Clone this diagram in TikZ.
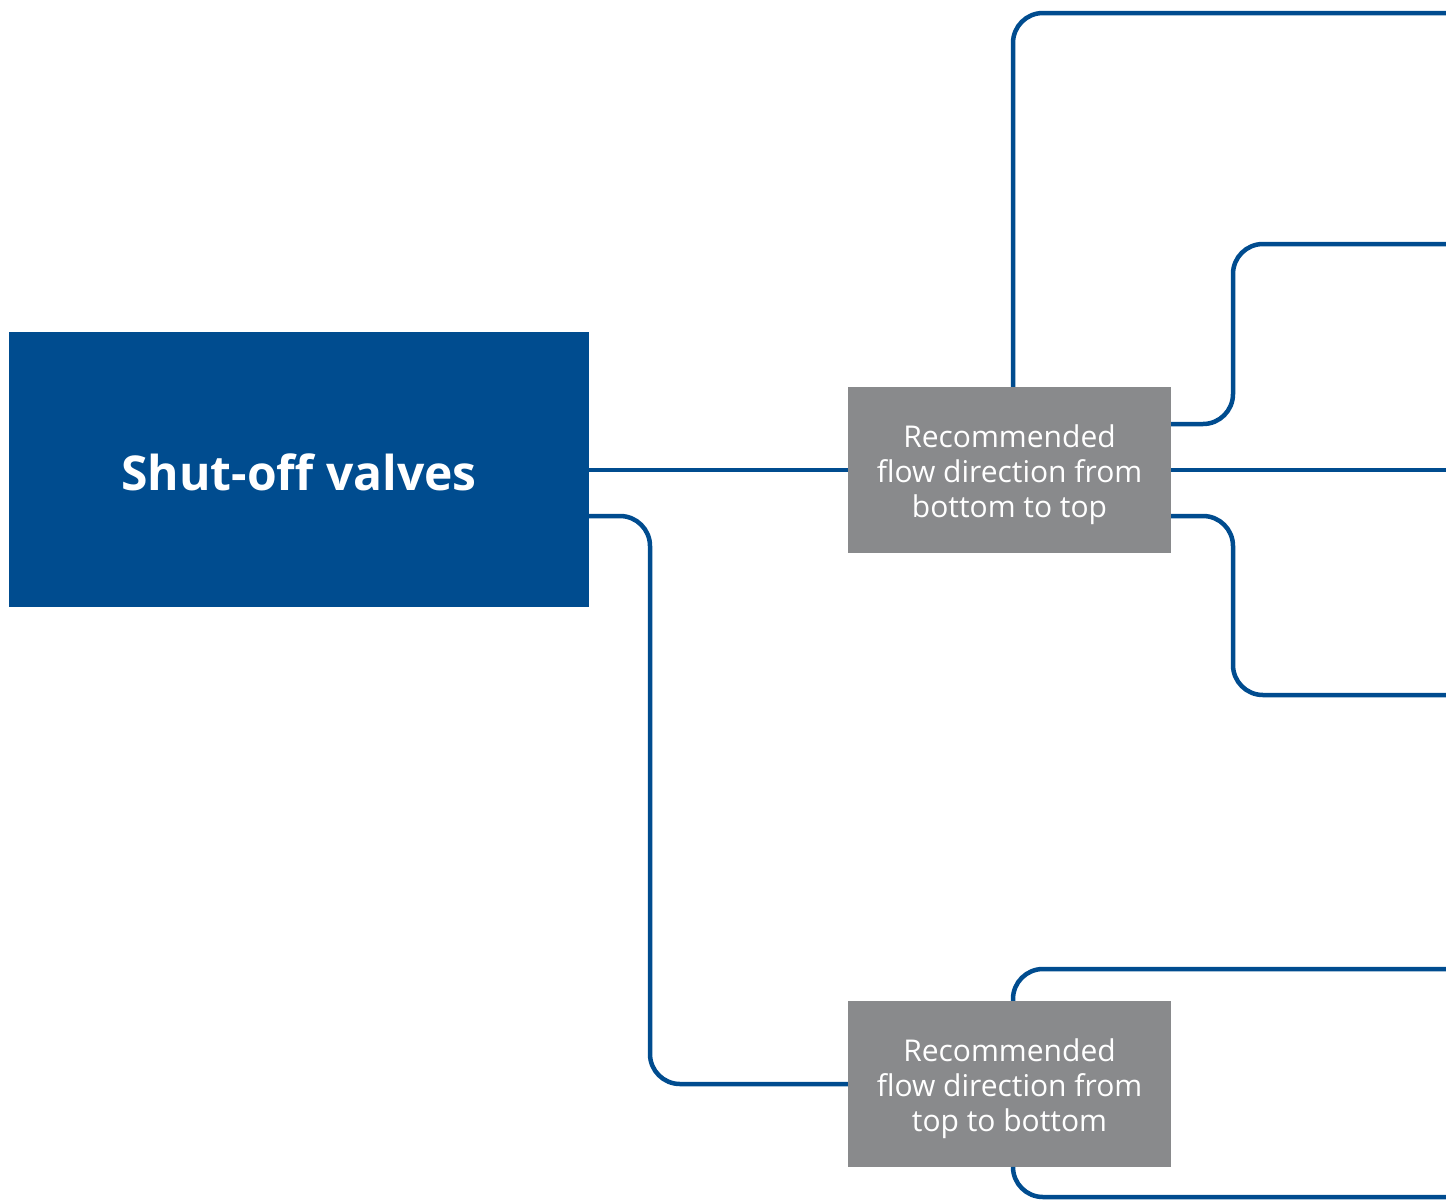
\documentclass[tikz,border=0pt]{standalone}
\usepackage{fontspec}
\setmainfont{Open Sans}
\definecolor{mainblue}{HTML}{004C8F}
\definecolor{boxgray}{HTML}{898A8C}
\begin{document}
\begin{tikzpicture}[x=1pt,y=-1pt,
  mainbox/.style={fill=mainblue,minimum width=580pt,minimum height=275pt,inner sep=0pt,text=white,
    font=\fontsize{48}{58}\selectfont\bfseries},
  graybox/.style={fill=boxgray,minimum width=323pt,minimum height=166pt,inner sep=0pt,text=white,
    align=center,font=\fontsize{30}{35}\selectfont},
  conn/.style={draw=mainblue,line width=4.5pt,rounded corners=30pt}]
\useasboundingbox (0,0) rectangle (1446,1203);
\node[mainbox] (main) at (299,469.5) {\raisebox{-3pt}[\height][\depth]{Shut-off valves}};
\node[graybox] (g1) at (1009.5,470) {\raisebox{-4.5pt}[\height][\depth]{\parbox{323pt}{\centering Recommended\\flow direction from\\bottom to top}}};
\node[graybox] (g2) at (1009.5,1084) {\raisebox{-4.5pt}[\height][\depth]{\parbox{323pt}{\centering Recommended\\flow direction from\\top to bottom}}};
\coordinate (e1) at (1446,13);
\coordinate (e2) at (1446,244);
\coordinate (e3) at (1446,470);
\coordinate (e4) at (1446,695);
\coordinate (e5) at (1446,969);
\coordinate (e6) at (1446,1197);
\draw[conn] (main.east |- g1.west) -- (g1.west);
\draw[conn] ([yshift=-46.5pt]main.east) -- (650,516) -- (650,1084) -- (g2.west);
\draw[conn] ([xshift=3.5pt]g1.north) -- (1013,13) -- (e1);
\draw[conn] ([yshift=46pt]g1.east) -- (1233,424) -- (1233,244) -- (e2);
\draw[conn] (g1.east) -- (e3);
\draw[conn] ([yshift=-46pt]g1.east) -- (1233,516) -- (1233,695) -- (e4);
\draw[conn] ([xshift=3.5pt]g2.north) -- (1013,969) -- (e5);
\draw[conn] ([xshift=3.5pt]g2.south) -- (1013,1197) -- (e6);
\end{tikzpicture}
\end{document}
